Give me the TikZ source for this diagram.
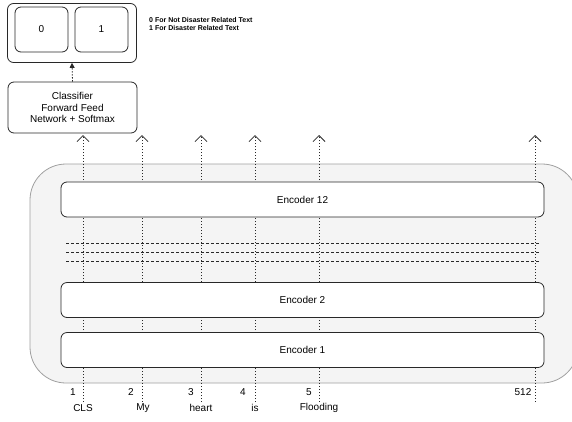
\documentclass[tikz,border=0pt]{standalone}
\usepackage{fontspec}
\setmainfont{Liberation Sans}
\usetikzlibrary{arrows.meta, positioning}
\definecolor{DG}{RGB}{40,40,40}
\definecolor{LGr}{RGB}{244,244,244}
\definecolor{MGr}{RGB}{160,160,160}

\begin{document}
\begin{tikzpicture}[x=1pt, y=-1pt,
  box/.style={draw=DG, line width=0.8pt, fill=white, rounded corners=6pt, inner sep=0pt,
              align=center, font=\fontsize{10}{11.5}\selectfont},
  encoder/.style={box, minimum width=483pt, minimum height=35pt},
  classbox/.style={box, minimum width=53pt, minimum height=45pt},
  flow/.style={draw=DG, line width=0.8pt, dash pattern=on 1.5pt off 1.5pt,
               -{Straight Barb[length=6pt, width=12pt, line width=0.8pt]}},
  sep/.style={draw=DG, line width=0.7pt, dash pattern=on 3pt off 2pt},
  tok/.style={font=\fontsize{10}{11.5}\selectfont, inner sep=1pt},
  legend/.style={font=\fontsize{7}{8}\selectfont\bfseries, align=left, anchor=west, inner sep=0pt}
]
\useasboundingbox (0,0) rectangle (572,421);
\clip (0,0) rectangle (572,421);

% output classes
\node[box, minimum width=129pt, minimum height=59pt] (out) at (72,33) {};
\node[classbox] (c0) at (41.5,29.5) {0};
\node[classbox] (c1) at (101.5,29.5) {1};
\node[legend] (lgd) at (149,24) {0 For Not Disaster Related Text\\1 For Disaster Related Text};

% classifier head
\node[box, minimum width=129pt, minimum height=51pt] (head) at (72.5,107.5)
  {Classifier\\Forward Feed\\Network + Softmax};
\draw[draw=DG, line width=0.8pt, dash pattern=on 1.5pt off 1.5pt,
      -{Triangle[length=5pt, width=5pt]}] (head.north) -- (out.south);

% BERT stack
\draw[draw=MGr, line width=0.8pt, fill=LGr, rounded corners=36pt] (30,164) rectangle (578,383);

\foreach \x/\i in {83/1, 142/2, 201/3, 255/4, 319/5, 535/6} {
  \coordinate (b\i) at (\x,402);
  \coordinate (t\i) at (\x,135);
  \draw[flow] (b\i) -- (t\i);
}

\foreach \y/\i in {243/1, 252/2, 261/3} {
  \coordinate (sl\i) at (66,\y);
  \coordinate (sr\i) at (540,\y);
  \draw[sep] (sl\i) -- (sr\i);
}

\node[encoder] (enc12) at (302.5,199.5) {Encoder 12};
\node[encoder] (enc2)  at (302.5,300)   {Encoder 2};
\node[encoder] (enc1)  at (302.5,350)   {Encoder 1};

% token positions and words
\foreach \x/\n in {73/1, 131/2, 191/3, 243/4, 309/5, 523/512}
  \node[tok] (n\n) at (\x,392) {\n};
\foreach \x/\w/\i in {83/CLS/1, 143/My/2, 201/heart/3, 255/is/4, 319/Flooding/5}
  \node[tok] (w\i) at (\x,408) {\w};
\end{tikzpicture}
\end{document}
